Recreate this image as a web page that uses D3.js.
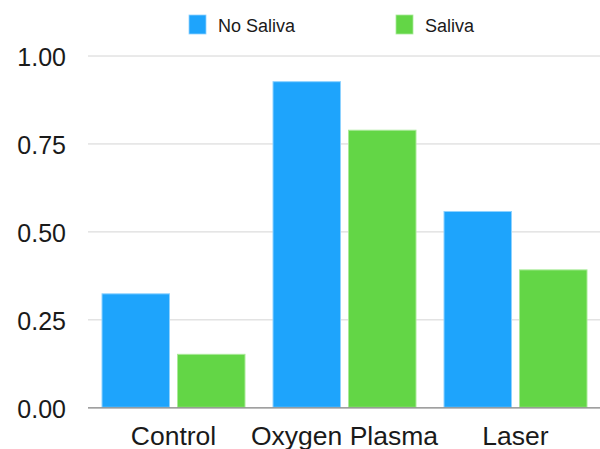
<!DOCTYPE html>
<html>
<head>
<meta charset="utf-8">
<script src="https://cdn.jsdelivr.net/npm/d3@7"></script>
<style>
  html, body { margin: 0; padding: 0; background: #fff; }
  svg { display: block; font-family: "Liberation Sans", Arial, Helvetica, sans-serif; }
</style>
</head>
<body>
<svg id="chart" width="600" height="449"></svg>
<script>
const categories = ["Control", "Oxygen Plasma", "Laser"];
const seriesNames = ["No Saliva", "Saliva"];
const noSaliva = [0.324, 0.927, 0.558];
const saliva = [0.152, 0.789, 0.392];
const yTicks = [0, 0.25, 0.5, 0.75, 1.0];
const colors = ["#1EA4FC", "#63D646"];
const strokes = ["#8FD2FF", "#A9EA98"];

(function () {
const seriesValues = [noSaliva, saliva];
const W = 600;
const mLeft = 88, mRight = 601, mTop = 55.5, mBottom = 407.3;

const svg = d3.select("#chart");

const x0 = d3.scaleBand().domain(categories).range([mLeft, mRight])
  .paddingInner(0.158).paddingOuter(0.079);
const x1 = d3.scaleBand().domain(seriesNames).range([0, x0.bandwidth()])
  .paddingInner(0.093).paddingOuter(0);
const y = d3.scaleLinear().domain([0, 1]).range([mBottom, mTop]);

const yAxis = d3.axisLeft(y).tickValues(yTicks).tickFormat(d3.format(".2f"))
  .tickSizeInner(-(W - mLeft)).tickSizeOuter(0).tickPadding(22);
const gy = svg.append("g").attr("transform", `translate(${mLeft},0)`).call(yAxis);
gy.select(".domain").remove();
gy.selectAll(".tick line").attr("stroke", "#d4d4d4").attr("stroke-width", 1);
gy.selectAll(".tick text").attr("fill", "#1a1a1a").attr("font-size", 25)
  .attr("font-family", "'Liberation Sans', Arial, sans-serif").attr("dy", "0.4em");

const groups = svg.append("g").selectAll("g").data(categories).join("g")
  .attr("transform", d => `translate(${x0(d)},0)`);
groups.selectAll("rect")
  .data((c, i) => seriesNames.map((s, j) => ({ s, j, v: seriesValues[j][i] })))
  .join("rect")
  .attr("x", d => x1(d.s) + 0.5)
  .attr("width", x1.bandwidth() - 1)
  .attr("y", d => y(d.v) + 0.5)
  .attr("height", d => y(0) - y(d.v) - 0.5)
  .attr("fill", d => colors[d.j])
  .attr("stroke", d => strokes[d.j])
  .attr("stroke-width", 1);

const xAxis = d3.axisBottom(x0).tickSize(0).tickSizeOuter(0).tickPadding(19);
const gx = svg.append("g").attr("transform", `translate(0,${mBottom})`).call(xAxis);
gx.select(".domain").attr("d", `M${mLeft},0.5H${W}`).attr("stroke", "#8a8a8a").attr("stroke-width", 1.2);
gx.selectAll(".tick text").attr("fill", "#1a1a1a").attr("font-size", 26.5)
  .attr("font-family", "'Liberation Sans', Arial, sans-serif");

const legendX = [189, 396];
const lg = svg.append("g").selectAll("g").data(seriesNames).join("g")
  .attr("transform", (d, i) => `translate(${legendX[i]},15)`);
lg.append("rect").attr("width", 17).attr("height", 19)
  .attr("fill", (d, i) => colors[i]).attr("stroke", (d, i) => strokes[i]).attr("stroke-width", 0.8);
lg.append("text").attr("x", 29).attr("y", 17).attr("font-size", 18)
  .attr("fill", "#1a1a1a").text(d => d);
})();
</script>
</body>
</html>
